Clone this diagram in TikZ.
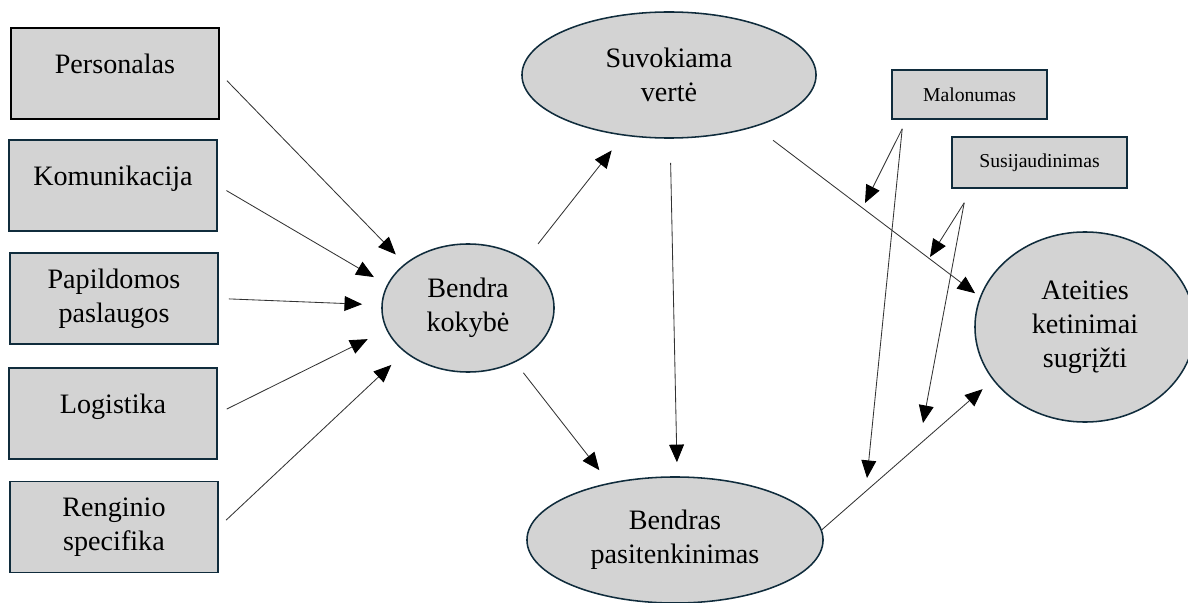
\documentclass[tikz,border=0pt]{standalone}
\usepackage{fontspec}
\setmainfont{Liberation Serif}
\usetikzlibrary{shapes.geometric,arrows.meta}
\definecolor{rim}{RGB}{16,44,60}
\definecolor{shade}{RGB}{211,211,211}
\tikzset{
  factor/.style={draw=rim, line width=1.1pt, fill=shade, minimum width=5.2cm,
    minimum height=2.28cm, align=center, inner sep=0pt,
    font=\fontsize{20}{24}\selectfont},
  oneline/.style={text height=0.45cm, text depth=0.45cm},
  latent/.style={ellipse, draw=rim, line width=1.1pt, fill=shade, align=center,
    inner sep=0pt, font=\fontsize{20}{24}\selectfont},
  moderator/.style={draw=rim, line width=1.1pt, fill=shade, inner sep=0pt,
    font=\fontsize{14}{17}\selectfont},
  conn/.style={-{Triangle[length=0.44cm,width=0.37cm,color=black]}, line width=0.6pt,
    draw=black!80, shorten <=0.25cm, shorten >=0.4cm}
}
\begin{document}
\begin{tikzpicture}[x=0.025cm,y=-0.025cm]
      \useasboundingbox (0,0) rectangle (1188,603);
      \draw
        (115,73.5) node[factor,oneline,draw=black,line width=1.3pt] (pers){Personalas}
        (113,185.5) node[factor,oneline] (kom){Komunikacija}
        (114,298.5) node[factor] (pap){Papildomos\\paslaugos}
        (113,413.5) node[factor,oneline] (log){Logistika}
        (114,527) node[factor] (reng){Renginio\\specifika};
      \draw
        (468,308) node[latent,minimum width=4.3cm,minimum height=3.2cm] (kok){Bendra\\kokybė}
        (669,75) node[latent,minimum width=7.35cm,minimum height=3.15cm] (ver){Suvokiama\\vertė}
        (675,540) node[latent,minimum width=7.4cm,minimum height=3.15cm] (pas){Bendras\\pasitenkinimas}
        (1085,327) node[latent,minimum width=5.5cm,minimum height=4.75cm] (ket){Ateities\\ketinimai\\sugrįžti};
      \draw
        (969.5,94.5) node[moderator,minimum width=3.875cm,minimum height=1.225cm] (mal){Malonumas}
        (1039.5,162.5) node[moderator,minimum width=4.375cm,minimum height=1.275cm] (sus){Susijaudinimas};
      \coordinate (mal-out) at ([xshift=0.275cm,yshift=-0.225cm]mal.south west);
      \coordinate (sus-out) at ([xshift=0.325cm,yshift=-0.35cm]sus.south west);
      \coordinate (mal-ver) at (865,203);
      \coordinate (mal-pas) at (867,478);
      \coordinate (sus-ver) at (930,257);
      \coordinate (sus-pas) at (923,423);
      \begin{scope}[conn]
        \draw[shorten >=0.32cm] (pers.east) to (kok.145);
        \draw[shorten >=0.38cm] (kom.east) to (kok.164);
        \draw[shorten >=0.48cm] (pap.east) to (kok.178);
        \draw[shorten >=0.52cm] (log.east) to (kok.195);
        \draw[shorten >=0.46cm] (reng.east) to (kok.215);
        \draw[shorten <=0.5cm, shorten >=0.47cm] (kok.40) to (ver.233);
        \draw[shorten <=0.33cm, shorten >=0.4cm] (kok.311) to (pas.139);
        \draw[shorten <=0.6cm, shorten >=0.35cm] (ver.271) to (pas.88);
        \draw[shorten <=0.56cm, shorten >=0.15cm] (ver.329) to (ket.164);
        \draw[shorten <=0cm, shorten >=0.34cm] (pas.4) to (ket.210);
        \draw[shorten <=0cm, shorten >=0cm] (mal-out) to (mal-ver);
        \draw[shorten <=0cm, shorten >=0cm] (mal-out) to (mal-pas);
        \draw[shorten <=0cm, shorten >=0cm] (sus-out) to (sus-ver);
        \draw[shorten <=0cm, shorten >=0cm] (sus-out) to (sus-pas);
      \end{scope}
    \end{tikzpicture}
\end{document}
